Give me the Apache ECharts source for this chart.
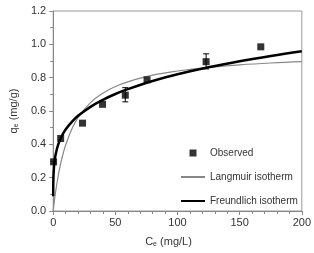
<!DOCTYPE html>
<html>
<head>
<meta charset="utf-8">
<script src="https://cdn.jsdelivr.net/npm/echarts@6/dist/echarts.min.js"></script>
<style>
    html, body { margin: 0; padding: 0; background: #fff; }
    #chart { width: 314px; height: 253px; }
</style>
</head>
<body>
<div id="chart"></div>
<script>
// observed points [Ce, qe]
var observed = [[0.3, 0.295], [6, 0.435], [23.6, 0.527], [39.7, 0.64], [58, 0.695],
    [75.5, 0.787], [123, 0.896], [167, 0.985]];
// error bars [Ce, low, high]
var errorBars = [[58, 0.655, 0.74], [123, 0.853, 0.943]];
// fitted curves
var langmuir = [[0, 0], [1, 0.063], [2, 0.118], [4, 0.21], [6, 0.284], [8, 0.345],
    [10, 0.395], [15, 0.492], [20, 0.56], [30, 0.65], [40, 0.707], [50, 0.747],
    [60, 0.775], [80, 0.815], [100, 0.84], [125, 0.862], [150, 0.877], [175, 0.888], [200, 0.896]];
var freundlich = [[0.005, 0.088], [0.02, 0.121], [0.1, 0.173], [0.3, 0.222], [0.6, 0.259],
    [1, 0.291], [2, 0.34], [4, 0.398], [7, 0.451], [10, 0.489], [15, 0.535], [20, 0.571],
    [30, 0.625], [40, 0.667], [50, 0.702], [60, 0.731], [80, 0.78], [100, 0.82],
    [125, 0.862], [150, 0.898], [175, 0.93], [200, 0.959]];

var font = 'Liberation Sans, Arial, sans-serif';
var mychart = echarts.init(document.getElementById('chart'));

var option = {
    animation: false,
    grid: {
        left: 48, right: 8, top: 11, bottom: 38,
        show: true, borderColor: '#999', borderWidth: 1
    },
    legend: {
        orient: 'vertical',
        left: 175,
        top: 143,
        itemWidth: 24,
        itemHeight: 7,
        itemGap: 14,
        textStyle: { fontFamily: font, fontSize: 10, color: '#333' },
        data: [
            { name: 'Observed', icon: 'path://M0,0H1V1H0Z' },
            { name: 'Langmuir isotherm', itemStyle: { opacity: 0 } },
            { name: 'Freundlich isotherm', itemStyle: { opacity: 0 } }
        ]
    },
    xAxis: {
        type: 'value',
        min: 0, max: 200, interval: 50,
        name: '{a|C}{s|e}{a| (mg/L)}',
        nameLocation: 'middle',
        nameGap: 24,
        nameTextStyle: {
            padding: [0, 18, 0, 0],
            rich: {
                a: { fontFamily: font, fontSize: 11, color: '#333' },
                s: { fontFamily: font, fontSize: 7, color: '#333', verticalAlign: 'bottom', padding: [6, 0, 0, 0] }
            }
        },
        axisLine: { lineStyle: { color: '#888' } },
        axisTick: { length: 4, lineStyle: { color: '#888' } },
        minorTick: { show: true, splitNumber: 5, length: 3, lineStyle: { color: '#888' } },
        splitLine: { show: false },
        axisLabel: { fontFamily: font, fontSize: 11, color: '#333', margin: 6 }
    },
    yAxis: {
        type: 'value',
        min: 0, max: 1.2, interval: 0.2,
        name: '{a|q}{s|e}{a| (mg/g)}',
        nameLocation: 'middle',
        nameGap: 32,
        nameTextStyle: {
            rich: {
                a: { fontFamily: font, fontSize: 11, color: '#333' },
                s: { fontFamily: font, fontSize: 7, color: '#333', verticalAlign: 'bottom', padding: [6, 0, 0, 0] }
            }
        },
        axisLine: { show: true, lineStyle: { color: '#888' } },
        axisTick: { show: true, length: 4, lineStyle: { color: '#888' } },
        minorTick: { show: true, splitNumber: 2, length: 3, lineStyle: { color: '#888' } },
        splitLine: { show: false },
        axisLabel: {
            fontFamily: font, fontSize: 11, color: '#333', margin: 7,
            formatter: function (v) { return v.toFixed(1); }
        }
    },
    series: [
        {
            name: 'Langmuir isotherm',
            type: 'line',
            data: langmuir,
            smooth: 0.4,
            symbol: 'none',
            color: '#888',
            lineStyle: { width: 1.2, color: '#888' },
            z: 2
        },
        {
            name: 'Freundlich isotherm',
            type: 'line',
            data: freundlich,
            smooth: 0.4,
            symbol: 'none',
            color: '#000',
            lineStyle: { width: 2.5, color: '#000' },
            z: 3
        },
        {
            type: 'custom',
            data: errorBars,
            renderItem: function (params, api) {
                var lo = api.coord([api.value(0), api.value(1)]);
                var hi = api.coord([api.value(0), api.value(2)]);
                var style = { stroke: '#000', lineWidth: 1 };
                return {
                    type: 'group',
                    children: [
                        { type: 'line', shape: { x1: lo[0], y1: lo[1], x2: hi[0], y2: hi[1] }, style: style },
                        { type: 'line', shape: { x1: hi[0] - 3, y1: hi[1], x2: hi[0] + 3, y2: hi[1] }, style: style },
                        { type: 'line', shape: { x1: lo[0] - 3, y1: lo[1], x2: lo[0] + 3, y2: lo[1] }, style: style }
                    ]
                };
            },
            z: 4
        },
        {
            name: 'Observed',
            type: 'scatter',
            data: observed,
            symbol: 'rect',
            symbolSize: 7,
            color: '#000',
            itemStyle: { color: '#000' },
            z: 5
        }
    ]
};
mychart.setOption(option);
</script>
</body>
</html>
